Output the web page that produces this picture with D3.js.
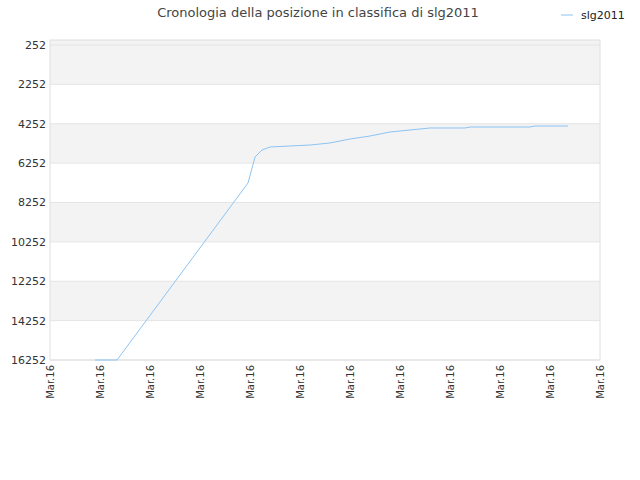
<!DOCTYPE html>
<html><head><meta charset="utf-8">
<script src="https://cdn.jsdelivr.net/npm/d3@7"></script>
<style>body{margin:0;background:#fff}</style>
</head><body>
<svg id="c" width="640" height="480"></svg>
<script>
const xLabels = ["Mar.16","Mar.16","Mar.16","Mar.16","Mar.16","Mar.16","Mar.16","Mar.16","Mar.16","Mar.16","Mar.16","Mar.16"];
const yTicks = [252,2252,4252,6252,8252,10252,12252,14252,16252];
const pos = [0.9,1.34,3.96,4.1,4.24,4.4,4.8,5.2,5.6,6.0,6.4,6.8,7.2,7.6,8.3,8.4,9.6,9.7,10.36];
const rank = [16252,16252,7263,5942,5587,5434,5383,5333,5231,5028,4876,4673,4571,4469,4469,4419,4419,4368,4368];

const svg = d3.select("#c");
const m = {l:50, r:600, t:40, b:360};
const x = d3.scaleLinear().domain([0,11]).range([m.l,m.r]);
const y = d3.scaleLinear().domain([0,16252]).range([m.t,m.b]);

const bands = [0,2252,4252,6252,8252,10252,12252,14252,16252];
for (let i=0;i<bands.length-1;i++){
  svg.append("rect").attr("x",m.l).attr("width",m.r-m.l)
    .attr("y",y(bands[i])).attr("height",y(bands[i+1])-y(bands[i]))
    .attr("fill", i%2===0 ? "#f3f3f3" : "#fff");
}
svg.selectAll(".gl").data(yTicks).join("line")
  .attr("x1",m.l).attr("x2",m.r).attr("y1",d=>y(d)).attr("y2",d=>y(d))
  .attr("stroke","#e4e4e4");
svg.append("rect").attr("x",m.l).attr("y",m.t).attr("width",m.r-m.l).attr("height",m.b-m.t)
  .attr("fill","none").attr("stroke","#e0e0e0");

svg.selectAll(".yl").data(yTicks).join("text")
  .attr("x",m.l-4).attr("y",d=>y(d)+4).attr("text-anchor","end")
  .attr("font-family","DejaVu Sans, sans-serif").attr("font-size",11).attr("fill","#333")
  .text(d=>d);

svg.selectAll(".xl").data(xLabels).join("text")
  .attr("transform",(d,i)=>`translate(${x(i)+4},${m.b+5}) rotate(-90)`)
  .attr("text-anchor","end")
  .attr("font-family","DejaVu Sans, sans-serif").attr("font-size",10).attr("fill","#333")
  .text(d=>d);

svg.append("path").datum(pos.map((p,i)=>[p,rank[i]]))
  .attr("d", d3.line().x(d=>x(d[0])).y(d=>y(d[1])))
  .attr("fill","none").attr("stroke","#8cc4f4").attr("stroke-width",1);

svg.append("text").attr("x",318).attr("y",17).attr("text-anchor","middle")
  .attr("font-family","DejaVu Sans, sans-serif").attr("font-size",13).attr("fill","#444")
  .text("Cronologia della posizione in classifica di slg2011");
svg.append("line").attr("x1",561).attr("x2",573).attr("y1",15).attr("y2",15)
  .attr("stroke","#8cc4f4");
svg.append("text").attr("x",581).attr("y",19)
  .attr("font-family","DejaVu Sans, sans-serif").attr("font-size",11).attr("fill","#222")
  .text("slg2011");
</script>
</body></html>
